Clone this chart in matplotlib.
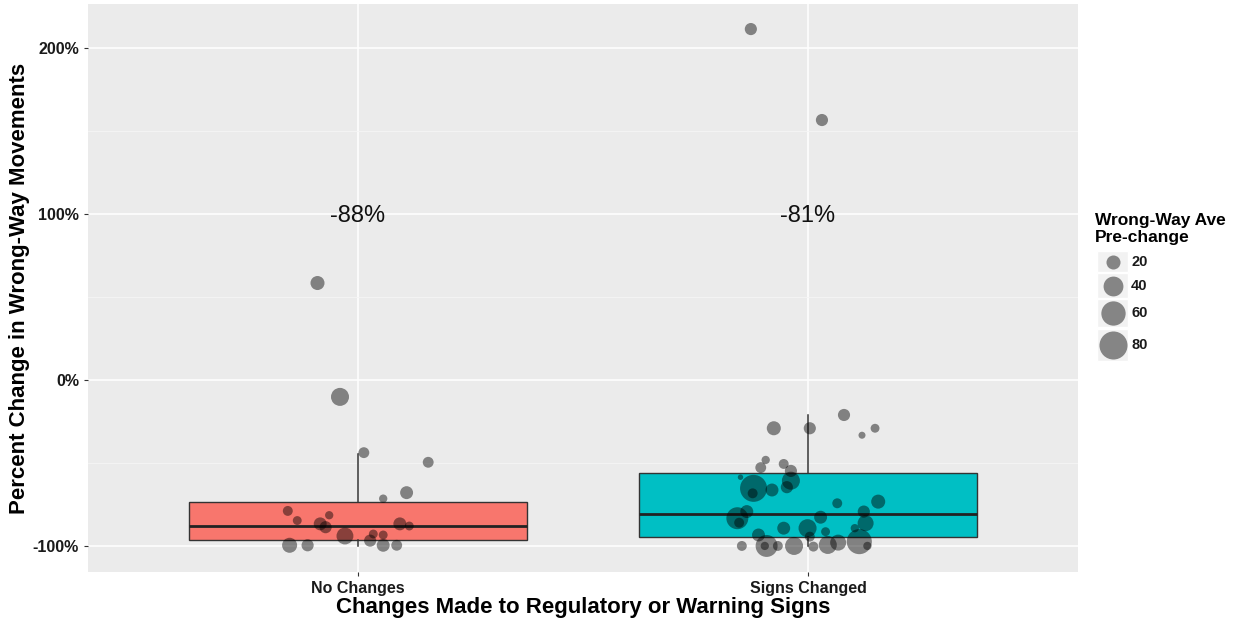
import matplotlib.pyplot as plt
from matplotlib.patches import Rectangle
from matplotlib.ticker import FuncFormatter, MultipleLocator

# categories and box summary (percent change)
categories = ["No Changes", "Signs Changed"]
box_colors = ["#F8766D", "#00BFC4"]
q1 = [-96.4, -94.6]
median = [-88, -81]
q3 = [-73.5, -56]
whisker_lo = [-100, -100]
whisker_hi = [-44.6, -21]
median_labels = ["-88%", "-81%"]

# jittered points: horizontal jitter, pct change, pre-change average
no_change_jitter = [-0.09, -0.04, 0.013, 0.156, 0.108, 0.056, -0.156, -0.135,
                    -0.064, -0.084, -0.072, 0.093, 0.114, -0.029, 0.034, 0.056,
                    0.027, 0.056, 0.086, -0.152, -0.112]
no_change_pct = [58.4, -10.2, -43.8, -49.6, -67.9, -71.5, -78.9, -84.7,
                 -81.5, -86.7, -88.7, -86.7, -88.0, -94.0, -92.8, -93.4,
                 -96.8, -99.6, -99.6, -99.6, -99.6]
no_change_ave = [20, 33, 12, 12, 17, 7, 10, 8, 7, 17, 15, 17, 8, 29, 8, 8,
                 15, 17, 12, 23, 15]

signs_jitter = [-0.127, 0.031, 0.080, -0.076, 0.004, 0.149, 0.120, -0.094,
                -0.105, -0.054, -0.038, -0.150, -0.038, -0.047, -0.121, -0.123,
                -0.080, 0.065, 0.156, 0.124, -0.136, -0.157, -0.153, 0.028,
                0.128, -0.054, -0.001, 0.039, 0.104, -0.110, 0.004, -0.147,
                -0.096, -0.092, -0.067, -0.031, 0.012, 0.044, 0.067, 0.114,
                0.132]
signs_pct = [211.4, 156.6, -21.1, -29.1, -29.1, -29.1, -33.3, -48.2,
             -52.8, -50.6, -54.8, -58.6, -60.7, -64.6, -65.3, -68.3,
             -66.3, -74.3, -73.3, -79.3, -79.3, -83.3, -86.0, -82.7,
             -86.3, -89.3, -89.3, -91.4, -89.3, -93.4, -94.4, -100.0,
             -100.0, -100.0, -100.0, -100.0, -100.4, -99.4, -98.0, -97.4,
             -100.0]
signs_ave = [15, 15, 15, 20, 15, 8, 5, 7, 12, 10, 15, 3, 33, 15, 74, 10,
             17, 10, 20, 15, 17, 49, 10, 17, 26, 17, 33, 8, 7, 17, 10, 10,
             7, 49, 10, 33, 10, 33, 26, 64, 7]

legend_values = [20, 40, 60, 80]

SIZE_SCALE = 5.1  # points^2 per unit of pre-change average
POINT_COLOR = (0, 0, 0, 0.45)

plt.rcParams['font.family'] = ['Liberation Sans', 'DejaVu Sans']

fig = plt.figure(figsize=(12.38, 6.23), dpi=100)
ax = fig.add_axes([88 / 1238, 51 / 623, 990 / 1238, 568 / 623])
ax.set_facecolor("#EBEBEB")
for s in ax.spines.values():
    s.set_visible(False)

# boxes
stats = []
for i in range(len(categories)):
    stats.append(dict(med=median[i], q1=q1[i], q3=q3[i],
                      whislo=whisker_lo[i], whishi=whisker_hi[i], fliers=[]))
bp = ax.bxp(stats, positions=[1, 2], widths=0.75, patch_artist=True,
            showcaps=False, showfliers=False,
            boxprops=dict(edgecolor="#333333", linewidth=1.0),
            whiskerprops=dict(color="#333333", linewidth=1.1),
            medianprops=dict(color="#222222", linewidth=2.0))
for patch, c in zip(bp["boxes"], box_colors):
    patch.set_facecolor(c)

ax.set_xlim(0.4, 2.6)
ax.set_ylim(-115.7, 226.5)

ax.yaxis.set_major_locator(MultipleLocator(100))
ax.yaxis.set_minor_locator(MultipleLocator(50))
ax.yaxis.set_major_formatter(FuncFormatter(lambda v, p: f"{v:.0f}%"))
ax.set_xticks([1, 2])
ax.set_xticklabels(categories)
ax.grid(which="major", color="white", linewidth=1.1)
ax.grid(which="minor", axis="y", color="#F5F5F5", linewidth=0.6)
ax.set_axisbelow(True)
ax.tick_params(which="major", length=3, color="#333333", labelsize=11.5,
               labelcolor="#1A1A1A")
ax.tick_params(which="minor", length=0)
for lab in ax.get_xticklabels() + ax.get_yticklabels():
    lab.set_fontweight("bold")

# jittered points
x_left = [1 + j for j in no_change_jitter]
x_right = [2 + j for j in signs_jitter]
ax.scatter(x_left, no_change_pct, s=[v * SIZE_SCALE for v in no_change_ave],
           color=POINT_COLOR, linewidths=0, zorder=5)
ax.scatter(x_right, signs_pct, s=[v * SIZE_SCALE for v in signs_ave],
           color=POINT_COLOR, linewidths=0, zorder=5)

for i, lab in enumerate(median_labels):
    ax.text(i + 1, 99, lab, ha="center", va="center", fontsize=17,
            color="#111111")

ax.set_xlabel("Changes Made to Regulatory or Warning Signs", fontsize=16,
              fontweight="bold", labelpad=1)
ax.set_ylabel("Percent Change in Wrong-Way Movements", fontsize=16,
              fontweight="bold", labelpad=2)

# legend for point size
fig.text(1095 / 1238, 1 - 213 / 623, "Wrong-Way Ave\nPre-change", fontsize=12.5,
         fontweight="bold", va="top", ha="left", linespacing=1.2)
lax = fig.add_axes([0, 0, 1, 1], facecolor="none")
lax.set_xlim(0, 1238)
lax.set_ylim(623, 0)
lax.axis("off")
key_tops = [251, 273, 299, 329]
key_bottoms = [272, 298, 327, 361]
for v, t, b in zip(legend_values, key_tops, key_bottoms):
    lax.add_patch(Rectangle((1097, t), 31, b - t, facecolor="#F2F2F2",
                            edgecolor="white", linewidth=1))
    lax.scatter([1112.5], [(t + b) / 2], s=v * SIZE_SCALE, color=POINT_COLOR,
                linewidths=0)
    lax.text(1131, (t + b) / 2, str(v), fontsize=10.5, fontweight="bold",
             va="center", ha="left", color="#1A1A1A")

fig.savefig("out.png", dpi=100)
